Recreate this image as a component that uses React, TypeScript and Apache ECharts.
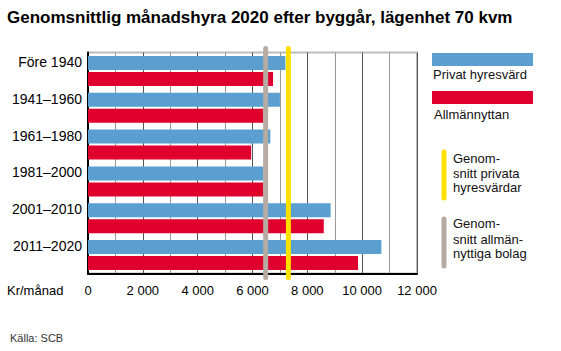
import React, { useEffect, useRef } from "react";
import * as echarts from "echarts";

const categories = ["Före 1940", "1941–1960", "1961–1980", "1981–2000", "2001–2010", "2011–2020"];
const privatValues = [7200, 7000, 6650, 6400, 8850, 10700];
const allmanValues = [6750, 6400, 5950, 6400, 8600, 9850];
const avgPrivat = 7310;
const avgAllman = 6480;
const xTickValues = [0, 2000, 4000, 6000, 8000, 10000, 12000];
const xTickLabels = ["0", "2 000", "4 000", "6 000", "8 000", "10 000", "12 000"];

const FONT = "'Liberation Sans', Arial, Helvetica, sans-serif";
const BLUE = "#5b9fd0";
const RED = "#e0002e";
const YELLOW = "#ffe000";
const TAUPE = "#b5aba2";

export default function App() {
  const ref = useRef<HTMLDivElement>(null);
  useEffect(() => {
    document.body.style.margin = "0";
    const chart = echarts.init(ref.current!, null, { renderer: "svg" });
    const avgLine = (value: number, color: string, name: string) => ({
      type: "custom",
      name,
      z: 5,
      clip: false,
      data: [[value, 0]],
      encode: { x: 0, y: 1 },
      renderItem: (params: any, api: any) => {
        const cs = params.coordSys;
        const x = api.coord([api.value(0), 0])[0];
        return {
          type: "line",
          shape: { x1: x, y1: cs.y - 4, x2: x, y2: cs.y + cs.height + 4 },
          style: { stroke: color, lineWidth: 5, lineCap: "round" },
        };
      },
    });
    const legendText = (x: number, y: number, text: string) => ({
      type: "text",
      x,
      y,
      style: { text, font: `13px ${FONT}`, fill: "#111", textVerticalAlign: "middle", lineHeight: 15 },
    });
    chart.setOption({
      animation: false,
      textStyle: { fontFamily: FONT },
      title: {
        text: "Genomsnittlig månadshyra 2020 efter byggår, lägenhet 70 kvm",
        left: 7,
        top: 9,
        padding: 0,
        textStyle: { fontFamily: FONT, fontSize: 17, fontWeight: "bold", color: "#000" },
      },
      grid: {
        left: 88,
        top: 52.5,
        width: 329,
        height: 221,
        show: true,
        borderColor: "#bbbbbb",
        borderWidth: 2,
        backgroundColor: "transparent",
      },
      xAxis: {
        type: "value",
        min: 0,
        max: 12000,
        interval: 1000,
        axisLine: { show: true, onZero: false, lineStyle: { color: "#000", width: 2 } },
        axisTick: { show: false },
        splitLine: { show: true, lineStyle: { color: ["#555", "#999"], width: 1 } },
        axisLabel: {
          fontSize: 13,
          color: "#000",
          margin: 10,
          formatter: (v: number) => {
            const i = xTickValues.indexOf(v);
            return i >= 0 ? xTickLabels[i] : "";
          },
        },
      },
      yAxis: {
        type: "category",
        data: categories,
        inverse: true,
        axisLine: { show: true, lineStyle: { color: "#000", width: 2 } },
        axisTick: { show: false },
        axisLabel: {
          fontSize: 14,
          color: "#000",
          margin: 6,
          verticalAlign: "bottom",
          lineHeight: 18,
        },
      },
      series: [
        {
          type: "bar",
          name: "Privat hyresvärd",
          data: privatValues,
          barWidth: 14,
          barGap: "14%",
          itemStyle: { color: BLUE },
        },
        {
          type: "bar",
          name: "Allmännyttan",
          data: allmanValues,
          barWidth: 14,
          barGap: "14%",
          itemStyle: { color: RED },
        },
        avgLine(avgAllman, TAUPE, "Genomsnitt allmännyttiga bolag"),
        avgLine(avgPrivat, YELLOW, "Genomsnitt privata hyresvärdar"),
      ],
      graphic: [
        { type: "rect", shape: { x: 432, y: 53, width: 101, height: 13 }, style: { fill: BLUE } },
        legendText(433, 74.5, "Privat hyresvärd"),
        { type: "rect", shape: { x: 432, y: 91, width: 101, height: 13 }, style: { fill: RED } },
        legendText(434, 114, "Allmännyttan"),
        {
          type: "line",
          shape: { x1: 444, y1: 152, x2: 444, y2: 198 },
          style: { stroke: YELLOW, lineWidth: 5, lineCap: "round" },
        },
        legendText(453, 158, "Genom-"),
        legendText(453, 173, "snitt privata"),
        legendText(453, 187.5, "hyresvärdar"),
        {
          type: "line",
          shape: { x1: 444, y1: 219, x2: 444, y2: 266 },
          style: { stroke: TAUPE, lineWidth: 5, lineCap: "round" },
        },
        legendText(453, 223.5, "Genom-"),
        legendText(453, 239, "snitt allmän-"),
        legendText(453, 253.5, "nyttiga bolag"),
        {
          type: "text",
          x: 7,
          y: 290,
          style: { text: "Kr/månad", font: `13px ${FONT}`, fill: "#000", textVerticalAlign: "middle" },
        },
        {
          type: "text",
          x: 10,
          y: 338,
          style: { text: "Källa: SCB", font: `11px ${FONT}`, fill: "#333", textVerticalAlign: "middle" },
        },
      ],
    });
    return () => chart.dispose();
  }, []);
  return <div ref={ref} style={{ width: 561, height: 351 }} />;
}
